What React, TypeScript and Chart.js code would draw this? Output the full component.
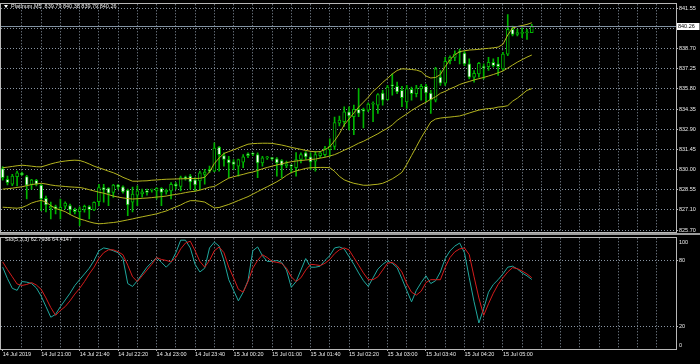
import React, { useEffect, useRef } from "react";
import { Chart, registerables } from "chart.js";

Chart.register(...registerables);

// ---------- data ----------
const symbolName = "Platinum,M5";

const opens = [
  830.01, 829.25, 828.89, 829.44, 829.67, 829.44, 828.87, 829.18, 828.84, 827.88,
  827.17, 827.28, 827.07, 827.31, 827.35, 827.07, 826.92, 827.07, 827.28, 827.04,
  827.63, 828.66, 828.61, 828.30, 828.84, 828.70, 828.47, 827.61, 828.11, 828.20,
  828.42, 828.47, 828.42, 828.59, 828.34, 828.42, 828.89, 828.73, 829.41, 829.48,
  829.20, 829.13, 829.60, 829.96, 829.84, 831.57, 830.95, 830.67, 830.50, 830.19,
  830.48, 831.07, 831.07, 831.02, 830.43, 830.79, 830.74, 830.72, 830.60, 830.21,
  830.26, 830.08, 830.67, 831.15, 830.86, 830.55, 830.95, 831.02, 831.38, 831.61,
  833.28, 833.39, 834.10, 833.75, 834.27, 834.27, 834.22, 834.64, 834.58, 835.45,
  834.98, 836.00, 835.93, 835.64, 834.81, 835.71, 835.41, 835.76, 835.93, 835.45,
  834.93, 836.59, 836.16, 837.78, 838.01, 838.37, 838.32, 837.54, 836.59, 836.83,
  837.35, 837.35, 837.65, 837.54, 837.19, 838.25, 840.03, 839.67, 839.74, 839.78,
  839.79,
];
const highs = [
  830.17, 829.48, 829.60, 829.84, 829.77, 829.53, 829.25, 829.25, 828.89, 828.04,
  827.61, 827.40, 827.83, 827.63, 827.47, 827.17, 827.26, 827.40, 827.35, 827.63,
  828.89, 828.89, 828.66, 828.89, 828.89, 828.77, 828.54, 828.68, 828.77, 828.54,
  828.54, 828.54, 828.66, 828.66, 828.54, 829.01, 829.01, 829.48, 829.48, 829.60,
  829.37, 829.84, 829.96, 830.19, 831.86, 831.61, 831.15, 830.90, 830.67, 830.70,
  831.02, 831.15, 831.15, 831.15, 830.90, 830.90, 830.81, 830.81, 830.67, 830.55,
  830.31, 831.17, 831.15, 831.24, 831.15, 831.26, 831.24, 831.61, 832.16, 833.72,
  833.80, 834.46, 834.46, 834.58, 835.76, 834.36, 834.74, 834.81, 835.41, 835.64,
  836.00, 836.83, 836.23, 835.93, 836.00, 835.88, 836.00, 836.07, 836.07, 835.64,
  837.30, 837.07, 838.01, 838.13, 838.49, 838.61, 838.44, 837.90, 837.07, 837.65,
  837.54, 838.01, 837.90, 838.01, 838.37, 841.09, 840.26, 840.03, 840.14, 840.03,
  840.38,
];
const lows = [
  829.18, 828.84, 828.79, 828.77, 829.53, 827.83, 828.54, 828.77, 826.99, 826.90,
  826.40, 826.76, 826.40, 827.12, 826.76, 826.76, 825.91, 826.88, 826.40, 826.99,
  827.35, 827.61, 827.35, 827.95, 828.54, 828.25, 826.64, 826.90, 827.35, 827.97,
  828.11, 828.32, 827.83, 827.35, 828.18, 827.83, 828.54, 828.42, 829.18, 828.54,
  828.42, 828.54, 828.89, 829.72, 829.80, 829.84, 830.19, 829.37, 829.96, 829.48,
  830.08, 830.81, 830.95, 829.37, 830.19, 830.67, 830.63, 829.48, 829.37, 830.08,
  829.72, 829.48, 830.43, 830.67, 829.96, 829.84, 830.81, 830.90, 830.90, 831.38,
  833.09, 833.04, 832.80, 832.45, 833.75, 832.94, 834.10, 833.39, 833.99, 834.58,
  834.93, 835.29, 835.41, 834.46, 834.34, 834.93, 835.17, 834.93, 834.81, 833.99,
  834.81, 836.00, 836.00, 837.54, 837.78, 837.54, 837.42, 836.47, 836.23, 836.59,
  836.47, 837.07, 837.30, 836.71, 837.07, 838.13, 839.55, 839.55, 839.43, 839.31,
  839.79,
];
const closes = [
  829.37, 829.01, 829.48, 829.72, 829.58, 828.82, 829.20, 828.89, 827.83, 827.40,
  827.31, 827.12, 827.24, 827.54, 827.04, 826.92, 827.12, 827.31, 827.07, 827.59,
  828.66, 828.49, 828.25, 828.84, 828.70, 828.34, 827.40, 828.18, 828.42, 828.34,
  828.30, 828.47, 828.59, 828.30, 828.47, 828.89, 828.77, 829.37, 829.30, 829.06,
  828.84, 829.72, 829.77, 829.84, 831.50, 831.02, 830.67, 830.43, 830.31, 830.67,
  830.86, 830.95, 831.05, 830.43, 830.79, 830.81, 830.73, 830.43, 830.24, 830.36,
  830.19, 830.67, 831.02, 830.86, 830.50, 831.02, 831.15, 831.45, 831.61, 833.32,
  833.51, 834.10, 833.80, 834.27, 833.99, 834.15, 834.65, 834.65, 835.34, 834.93,
  835.88, 835.97, 835.52, 835.12, 835.76, 835.41, 835.81, 835.93, 835.45, 834.98,
  837.19, 836.16, 837.73, 838.01, 838.25, 838.36, 837.54, 836.59, 836.87, 837.58,
  837.26, 837.65, 837.42, 837.35, 838.25, 840.03, 839.67, 839.79, 839.74, 839.79,
  840.26,
];

const bbUpper = [
  830.08, 830.12, 830.17, 830.22, 830.26, 830.23, 830.19, 830.15, 830.14, 830.24,
  830.35, 830.44, 830.51, 830.56, 830.60, 830.62, 830.60, 830.49, 830.35, 830.19,
  830.07, 829.96, 829.83, 829.72, 829.57, 829.39, 829.25, 829.11, 829.11, 829.13,
  829.14, 829.18, 829.20, 829.23, 829.25, 829.26, 829.27, 829.28, 829.29, 829.30,
  829.30, 829.32, 829.39, 829.78, 830.38, 830.78, 831.10, 831.24, 831.36, 831.50,
  831.64, 831.77, 831.81, 831.83, 831.84, 831.84, 831.83, 831.77, 831.71, 831.63,
  831.54, 831.47, 831.40, 831.32, 831.26, 831.22, 831.24, 831.38, 831.59, 832.02,
  832.52, 833.16, 833.58, 834.01, 834.44, 834.79, 835.15, 835.57, 835.86, 836.21,
  836.50, 836.82, 837.07, 837.19, 837.17, 837.14, 837.10, 836.99, 836.67, 836.53,
  836.57, 836.78, 837.35, 837.85, 838.20, 838.42, 838.49, 838.54, 838.56, 838.59,
  838.63, 838.66, 838.70, 838.75, 838.95, 839.62, 840.12, 840.23, 840.30, 840.38,
  840.50,
];
const bbMiddle = [
  828.54, 828.57, 828.61, 828.66, 828.71, 828.79, 828.87, 828.91, 828.96, 828.91,
  828.84, 828.79, 828.76, 828.73, 828.70, 828.68, 828.66, 828.59, 828.50, 828.41,
  828.32, 828.25, 828.15, 828.04, 827.97, 827.91, 827.86, 827.83, 827.85, 827.88,
  827.90, 827.93, 827.97, 828.00, 828.04, 828.11, 828.16, 828.22, 828.29, 828.35,
  828.39, 828.47, 828.57, 828.68, 828.73, 828.93, 829.14, 829.33, 829.43, 829.52,
  829.60, 829.70, 829.77, 829.88, 830.00, 830.10, 830.19, 830.28, 830.36, 830.44,
  830.51, 830.56, 830.60, 830.63, 830.67, 830.70, 830.77, 830.83, 830.92, 831.02,
  831.17, 831.34, 831.49, 831.66, 831.84, 831.98, 832.16, 832.34, 832.52, 832.73,
  832.91, 833.16, 833.48, 833.72, 833.94, 834.19, 834.40, 834.61, 834.79, 835.00,
  835.18, 835.43, 835.57, 835.75, 835.89, 836.06, 836.18, 836.28, 836.39, 836.48,
  836.57, 836.67, 836.78, 836.90, 837.03, 837.24, 837.46, 837.67, 837.85, 838.03,
  838.18,
];
const bbLower = [
  827.24, 827.22, 827.19, 827.17, 827.22, 827.36, 827.54, 827.65, 827.73, 827.61,
  827.36, 827.15, 827.04, 826.92, 826.72, 826.55, 826.40, 826.30, 826.19, 826.10,
  826.05, 826.07, 826.11, 826.14, 826.19, 826.26, 826.33, 826.40, 826.48, 826.55,
  826.62, 826.69, 826.76, 826.87, 826.97, 827.12, 827.26, 827.40, 827.58, 827.71,
  827.71, 827.67, 827.61, 827.40, 827.19, 827.22, 827.33, 827.44, 827.58, 827.72,
  827.86, 828.00, 828.18, 828.36, 828.54, 828.71, 828.89, 829.07, 829.28, 829.53,
  829.73, 829.85, 829.94, 830.03, 830.08, 830.09, 830.10, 830.10, 830.08, 829.82,
  829.46, 829.21, 829.07, 828.96, 828.89, 828.82, 828.82, 828.86, 828.89, 828.96,
  829.11, 829.28, 829.50, 829.75, 830.31, 830.95, 831.59, 832.23, 832.80, 833.37,
  833.58, 833.65, 833.69, 833.72, 833.76, 833.80, 833.90, 834.01, 834.12, 834.22,
  834.29, 834.33, 834.36, 834.44, 834.47, 834.54, 834.86, 835.08, 835.36, 835.64,
  835.76,
];

const stochMain = [
  73.9, 63.5, 54.8, 53.0, 60.9, 60.4, 59.1, 55.2, 47.8, 38.3,
  28.7, 31.3, 38.3, 44.3, 50.4, 57.4, 62.6, 67.8, 73.0, 80.0,
  88.7, 91.3, 90.4, 88.7, 87.0, 81.7, 59.1, 56.5, 61.7, 67.8,
  73.9, 78.3, 82.6, 78.3, 73.9, 78.3, 87.0, 98.3, 98.3, 91.3,
  76.5, 69.6, 73.0, 91.3, 96.5, 93.0, 80.0, 62.6, 53.0, 43.5,
  51.3, 61.7, 88.7, 92.2, 84.3, 79.1, 79.1, 80.0, 78.3, 71.3,
  55.7, 60.9, 71.3, 81.7, 73.9, 73.9, 74.8, 80.0, 84.3, 91.3,
  92.2, 90.4, 83.5, 76.5, 68.7, 61.7, 56.5, 64.3, 72.2, 76.5,
  79.6, 77.4, 73.5, 63.5, 53.0, 42.6, 53.0, 60.0, 66.1, 59.1,
  61.7, 69.6, 81.7, 88.7, 93.0, 95.7, 87.0, 64.3, 42.6, 23.5,
  36.5, 51.3, 58.3, 62.6, 67.8, 73.9, 74.8, 72.2, 68.7, 66.1,
  62.7936,
];
const stochSignal = [
  78.7, 71.7, 65.2, 58.7, 57.4, 58.3, 60.0, 57.8, 53.9, 46.1,
  37.4, 30.4, 34.8, 38.3, 43.5, 49.6, 54.8, 60.9, 67.8, 73.9,
  81.7, 87.0, 89.6, 89.6, 87.8, 85.2, 75.7, 65.2, 60.9, 66.1,
  71.3, 76.5, 82.6, 80.9, 80.0, 78.7, 82.6, 90.4, 95.7, 97.4,
  88.7, 79.1, 73.9, 80.0, 88.7, 92.2, 87.0, 73.9, 64.3, 53.9,
  51.3, 60.9, 73.0, 80.0, 85.2, 82.6, 79.1, 78.3, 77.4, 73.0,
  65.2, 60.9, 64.3, 71.3, 76.5, 76.1, 75.4, 77.4, 80.9, 86.1,
  89.6, 91.3, 89.6, 82.6, 75.7, 68.7, 62.6, 62.6, 65.2, 71.3,
  77.4, 78.3, 75.2, 69.6, 59.1, 51.3, 48.7, 52.2, 60.0, 62.6,
  62.6, 62.6, 73.9, 82.6, 87.8, 90.4, 91.3, 85.2, 65.2, 46.1,
  30.4, 40.9, 50.4, 58.3, 64.3, 69.6, 73.5, 72.6, 70.4, 67.8,
  64.4147,
];

const timeLabels = [
  "14 Jul 2019", "14 Jul 21:00", "14 Jul 21:40", "14 Jul 22:20", "14 Jul 23:00",
  "14 Jul 23:40", "15 Jul 00:20", "15 Jul 01:00", "15 Jul 01:40", "15 Jul 02:20",
  "15 Jul 03:00", "15 Jul 03:40", "15 Jul 04:20", "15 Jul 05:00",
];
const priceTickLabels = [
  "841.55", "840.10", "838.70", "837.25", "835.80", "834.35",
  "832.90", "831.45", "830.00", "828.55", "827.10", "825.70",
];
const priceTickTop = 841.55;
const priceTickStep = 1.45;
const stochTickLevels = [100, 80, 20, 0];
const stochGridLevels = [80, 20];
const stochName = "Sto(5,3,3)";

// ---------- layout / style ----------
const xMin = -0.35;
const xMax = 139.98;
const gridEvery = 4;
const labelEvery = 8;
const priceMin = 825.48;
const priceMax = 841.827;
const stochEdgeInset = 3.5;

const GREEN = "#00b400";
const BB_COLOR = "#b4b41e";
const TEAL = "#20a89e";
const RED = "#d41c1c";
const GRID = "#8a96a4";
const AXIS_TEXT = "#ececec";
const FRAME = "#b8b8b8";
const BID_LINE = "#8090a0";
const FONT_FAMILY = "'Liberation Sans', Arial, sans-serif";
const FONT_SIZE = 5.5;
const TICK_FONT = { family: FONT_FAMILY, size: FONT_SIZE };
const CLEAR = "rgba(0,0,0,0)";

const idx = opens.map((_, i) => i);

function isLabelTick(v: any) {
  return typeof v === "number" && v % labelEvery === 0 && v / labelEvery < timeLabels.length;
}

function xScale(showLabels: boolean) {
  const values: number[] = [];
  for (let v = 0; v <= xMax; v += gridEvery) values.push(v);
  return {
    type: "linear",
    min: xMin,
    max: xMax,
    offset: false,
    afterBuildTicks: (s: any) => {
      s.ticks = values.map((value) => ({ value }));
    },
    afterFit: (s: any) => {
      s.height = showLabels ? 15 : 0;
    },
    grid: {
      offset: false,
      color: (c: any) => (c.tick && c.tick.value === 0 ? CLEAR : GRID),
      lineWidth: 1,
      drawTicks: showLabels,
      tickLength: 2,
      tickColor: (c: any) => (c.tick && isLabelTick(c.tick.value) ? FRAME : CLEAR),
    },
    border: { display: false, dash: [1, 2] },
    ticks: {
      display: showLabels,
      autoSkip: false,
      maxRotation: 0,
      minRotation: 0,
      align: "start",
      padding: 0,
      color: AXIS_TEXT,
      font: TICK_FONT,
      callback: (v: any) => (isLabelTick(v) ? timeLabels[v / labelEvery] : ""),
    },
  };
}

const framePlugin = {
  id: "frame",
  afterDraw(chart: any) {
    const { ctx, chartArea: a } = chart;
    const l = Math.round(a.left), t = Math.round(a.top);
    const r = Math.round(a.right), b = Math.round(a.bottom);
    ctx.save();
    ctx.strokeStyle = FRAME;
    ctx.lineWidth = 1;
    ctx.strokeRect(l - 0.5, t - 0.5, r - l + 1, b - t + 1);
    ctx.restore();
  },
};

const bidPlugin = {
  id: "bid",
  afterDatasetsDraw(chart: any) {
    const { ctx, chartArea: a } = chart;
    const last = closes[closes.length - 1];
    const y = Math.round(chart.scales.y.getPixelForValue(last)) + 0.5;
    ctx.save();
    ctx.strokeStyle = BID_LINE;
    ctx.lineWidth = 1;
    ctx.beginPath();
    ctx.moveTo(a.left, y);
    ctx.lineTo(a.right, y);
    ctx.stroke();
    ctx.fillStyle = "#ffffff";
    ctx.fillRect(a.right + 0.5, y - 3.5, 23, 7);
    ctx.fillStyle = "#000000";
    ctx.font = `${FONT_SIZE}px ${FONT_FAMILY}`;
    ctx.textBaseline = "middle";
    ctx.textAlign = "left";
    ctx.fillText(last.toFixed(2), a.right + 2, y + 0.3);
    ctx.restore();
  },
};

export default function App() {
  const mainRef = useRef<HTMLCanvasElement>(null);
  const subRef = useRef<HTMLCanvasElement>(null);

  useEffect(() => {
    const bodyFill = idx.map((i) => (closes[i] >= opens[i] ? "#000000" : "#ffffff"));
    const line = (values: number[], color: string, order: number) => ({
      type: "line",
      data: idx.map((i) => ({ x: i, y: values[i] })),
      borderColor: color,
      borderWidth: 1,
      pointRadius: 0,
      tension: 0,
      fill: false,
      order,
    });

    const main = new Chart(mainRef.current as HTMLCanvasElement, {
      type: "bar",
      data: {
        datasets: [
          line(bbUpper, BB_COLOR, 0),
          line(bbMiddle, BB_COLOR, 0),
          line(bbLower, BB_COLOR, 0),
          {
            type: "bar",
            data: idx.map((i) => ({ x: i, y: [opens[i], closes[i]] })),
            backgroundColor: bodyFill,
            borderColor: GREEN,
            borderWidth: 1,
            borderSkipped: false,
            barThickness: 3,
            grouped: false,
            minBarLength: 1,
            order: 1,
          },
          {
            type: "bar",
            data: idx.map((i) => ({ x: i, y: [lows[i], highs[i]] })),
            backgroundColor: GREEN,
            borderWidth: 0,
            barThickness: 1,
            grouped: false,
            minBarLength: 1,
            order: 2,
          },
        ] as any,
      },
      options: {
        responsive: false,
        devicePixelRatio: 1,
        animation: false,
        events: [],
        layout: { padding: { left: 1, top: 3, right: 0, bottom: 3 } },
        plugins: { legend: { display: false }, tooltip: { enabled: false }, title: { display: false } },
        scales: {
          x: xScale(false) as any,
          y: {
            type: "linear",
            position: "right",
            min: priceMin,
            max: priceMax,
            beginAtZero: false,
            afterBuildTicks: (s: any) => {
              s.ticks = priceTickLabels.map((_, k) => ({ value: priceTickTop - k * priceTickStep }));
            },
            afterFit: (s: any) => {
              s.width = 24;
            },
            grid: { color: GRID, lineWidth: 1, drawTicks: true, tickLength: 2, tickColor: FRAME },
            border: { display: false, dash: [1, 2] },
            ticks: {
              autoSkip: false,
              padding: 1,
              color: AXIS_TEXT,
              font: TICK_FONT,
              callback: (_v: any, i: number) => priceTickLabels[i],
            },
          } as any,
        },
      },
      plugins: [bidPlugin, framePlugin],
    });

    const sub = new Chart(subRef.current as HTMLCanvasElement, {
      type: "line",
      data: {
        datasets: [
          {
            data: idx.map((i) => ({ x: i, y: stochMain[i] })),
            borderColor: TEAL,
            borderWidth: 1,
            pointRadius: 0,
            tension: 0,
            order: 1,
          },
          {
            data: idx.map((i) => ({ x: i, y: stochSignal[i] })),
            borderColor: RED,
            borderWidth: 1,
            pointRadius: 0,
            tension: 0,
            order: 0,
          },
        ] as any,
      },
      options: {
        responsive: false,
        devicePixelRatio: 1,
        animation: false,
        events: [],
        layout: { padding: { left: 1, top: 1, right: 0, bottom: 0 } },
        plugins: { legend: { display: false }, tooltip: { enabled: false } },
        scales: {
          x: xScale(true) as any,
          y: {
            type: "linear",
            position: "right",
            min: 0,
            max: 100,
            afterBuildTicks: (s: any) => {
              s.ticks = stochTickLevels.map((v) => ({
                value: v === 100 ? v - stochEdgeInset : v === 0 ? v + stochEdgeInset : v,
              }));
            },
            afterFit: (s: any) => {
              s.width = 24;
            },
            grid: {
              color: (c: any) => (c.tick && stochGridLevels.includes(c.tick.value) ? GRID : CLEAR),
              tickColor: (c: any) => (c.tick && stochGridLevels.includes(c.tick.value) ? FRAME : CLEAR),
              lineWidth: 1,
              drawTicks: true,
              tickLength: 2,
            },
            border: { display: false, dash: [1, 2] },
            ticks: {
              autoSkip: false,
              padding: 1,
              color: AXIS_TEXT,
              font: TICK_FONT,
              callback: (_v: any, i: number) => String(stochTickLevels[i]),
            },
          } as any,
        },
      },
      plugins: [framePlugin],
    });

    return () => {
      main.destroy();
      sub.destroy();
    };
  }, []);

  const n = closes.length - 1;
  const header = `${symbolName}  ${opens[n].toFixed(2)} ${highs[n].toFixed(2)} ${lows[n].toFixed(2)} ${closes[n].toFixed(2)}`;
  const stochHeader = `${stochName} ${stochMain[n].toFixed(4)} ${stochSignal[n].toFixed(4)}`;
  const textStyle: any = {
    position: "absolute",
    fontFamily: FONT_FAMILY,
    fontSize: `${FONT_SIZE}px`,
    lineHeight: "7px",
    color: AXIS_TEXT,
    whiteSpace: "pre",
  };

  return (
    <div style={{ position: "fixed", left: 0, top: 0, width: 700, height: 364, background: "#000", overflow: "hidden" }}>
      <canvas ref={mainRef} width={700} height={236} style={{ position: "absolute", left: 0, top: 0, width: 700, height: 236 }} />
      <canvas ref={subRef} width={700} height={130} style={{ position: "absolute", left: 0, top: 234, width: 700, height: 130 }} />
      <div style={{ position: "absolute", left: 0, top: 233, width: 700, height: 2, background: "#9c9c9c" }} />
      <div
        style={{
          position: "absolute",
          left: 4,
          top: 5,
          width: 0,
          height: 0,
          borderLeft: "2px solid transparent",
          borderRight: "2px solid transparent",
          borderTop: "3px solid #ffffff",
        }}
      />
      <div style={{ ...textStyle, left: 11, top: 3 }}>{header}</div>
      <div style={{ ...textStyle, left: 5, top: 236 }}>{stochHeader}</div>
    </div>
  );
}
